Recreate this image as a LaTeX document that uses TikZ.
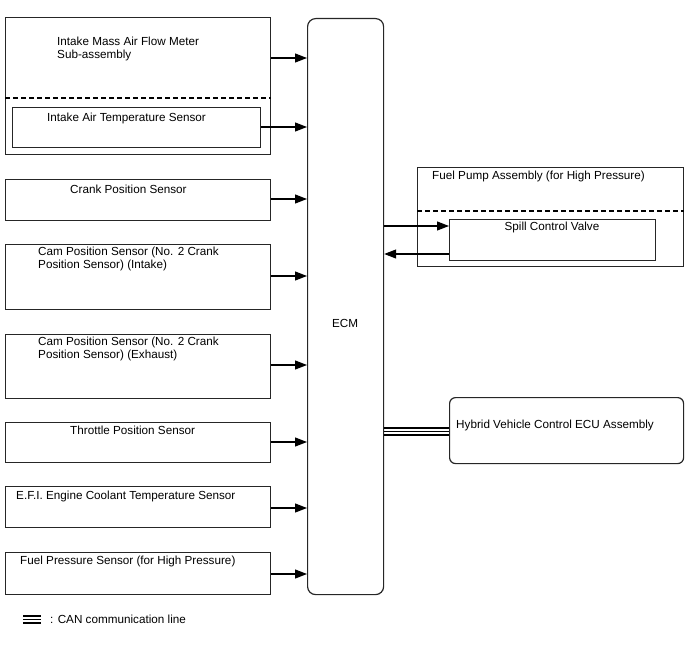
\documentclass[tikz,border=0pt]{standalone}
\usepackage{fontspec}
\setmainfont{Liberation Sans}
\usepackage{tikz}
\usetikzlibrary{arrows.meta,positioning}

\begin{document}
\begin{tikzpicture}[x=1pt,y=-1pt,
  every node/.style={font=\fontsize{11.7}{13}\selectfont},
  box/.style={draw=black!85,line width=1.2pt,inner sep=0pt,anchor=north west},
  txt/.style={inner sep=0pt,anchor=west,align=left},
  sep/.style={dash pattern=on 5pt off 3pt,line width=1.2pt},
  ar/.style={-{Triangle[length=12pt,width=9pt]},line width=1.2pt},
  can/.style={line width=1.4pt}]
\useasboundingbox (0,0) rectangle (688,658);
% ECM
\node[box,rounded corners=8pt,minimum width=76pt,minimum height=576pt] (ecm) at (307,18) {};
\node at (345,323) {ECM};
% inputs
\node[box,minimum width=265pt,minimum height=137pt] (maf) at (5,17) {};
\node[txt] at (57,48.5) {Intake Mass Air Flow Meter\\Sub-assembly};
\draw[sep] (maf.west |- 0,98) -- (maf.east |- 0,98);
\node[box,minimum width=248pt,minimum height=40pt] (iat) at (12,107) {};
\node[txt] at (47,118) {Intake Air Temperature Sensor};
\node[box,minimum width=265pt,minimum height=41pt] (ckp) at (5,179) {};
\node[txt] at (70,189) {Crank Position Sensor};
\node[box,minimum width=265pt,minimum height=65pt] (cmpi) at (5,244) {};
\node[txt] at (38,259) {Cam Position Sensor (No. 2 Crank\\Position Sensor) (Intake)};
\node[box,minimum width=265pt,minimum height=64pt] (cmpe) at (5,334) {};
\node[txt] at (38,349) {Cam Position Sensor (No. 2 Crank\\Position Sensor) (Exhaust)};
\node[box,minimum width=265pt,minimum height=40pt] (tps) at (5,422) {};
\node[txt] at (70,430) {Throttle Position Sensor};
\node[box,minimum width=265pt,minimum height=41pt] (ect) at (5,486) {};
\node[txt] at (16,496) {E.F.I. Engine Coolant Temperature Sensor};
\node[box,minimum width=265pt,minimum height=42pt] (fps) at (5,552) {};
\node[txt] at (20,561) {Fuel Pressure Sensor (for High Pressure)};
\draw[ar] (maf.east |- 0,58) -- (ecm.west |- 0,58);
\draw[ar] (iat.east |- 0,127) -- (ecm.west |- 0,127);
\draw[ar] (ckp.east |- 0,199) -- (ecm.west |- 0,199);
\draw[ar] (cmpi.east |- 0,276) -- (ecm.west |- 0,276);
\draw[ar] (cmpe.east |- 0,365) -- (ecm.west |- 0,365);
\draw[ar] (tps.east |- 0,442) -- (ecm.west |- 0,442);
\draw[ar] (ect.east |- 0,508) -- (ecm.west |- 0,508);
\draw[ar] (fps.east |- 0,574) -- (ecm.west |- 0,574);
% outputs
\node[box,minimum width=266pt,minimum height=99pt] (pump) at (417,167) {};
\node[txt] at (432,176) {Fuel Pump Assembly (for High Pressure)};
\draw[sep] (pump.west |- 0,211) -- (pump.east |- 0,211);
\node[box,minimum width=206pt,minimum height=41pt] (scv) at (449,219) {};
\node at (552,227) {Spill Control Valve};
\draw[ar] (ecm.east |- 0,226) -- (scv.west |- 0,226);
\draw[ar] (scv.west |- 0,254) -- (ecm.east |- 0,254);
\node[box,rounded corners=6pt,minimum width=234pt,minimum height=66pt] (hv) at (449,397) {};
\node[txt] at (456,425) {Hybrid Vehicle Control ECU Assembly};
\foreach \dy in {-3.5,0,3.5}
  \draw[can] ([yshift=\dy]ecm.east |- 0,431.5) -- ([yshift=\dy]hv.west |- 0,431.5);
% legend
\coordinate (lg) at (23,619.5);
\foreach \dy in {-3.4,0,3.4}
  \draw[can] ([yshift=\dy]lg) -- ([yshift=\dy,xshift=18pt]lg);
\node[txt,anchor=west] at (50,619) {: CAN communication line};
\end{tikzpicture}
\end{document}
